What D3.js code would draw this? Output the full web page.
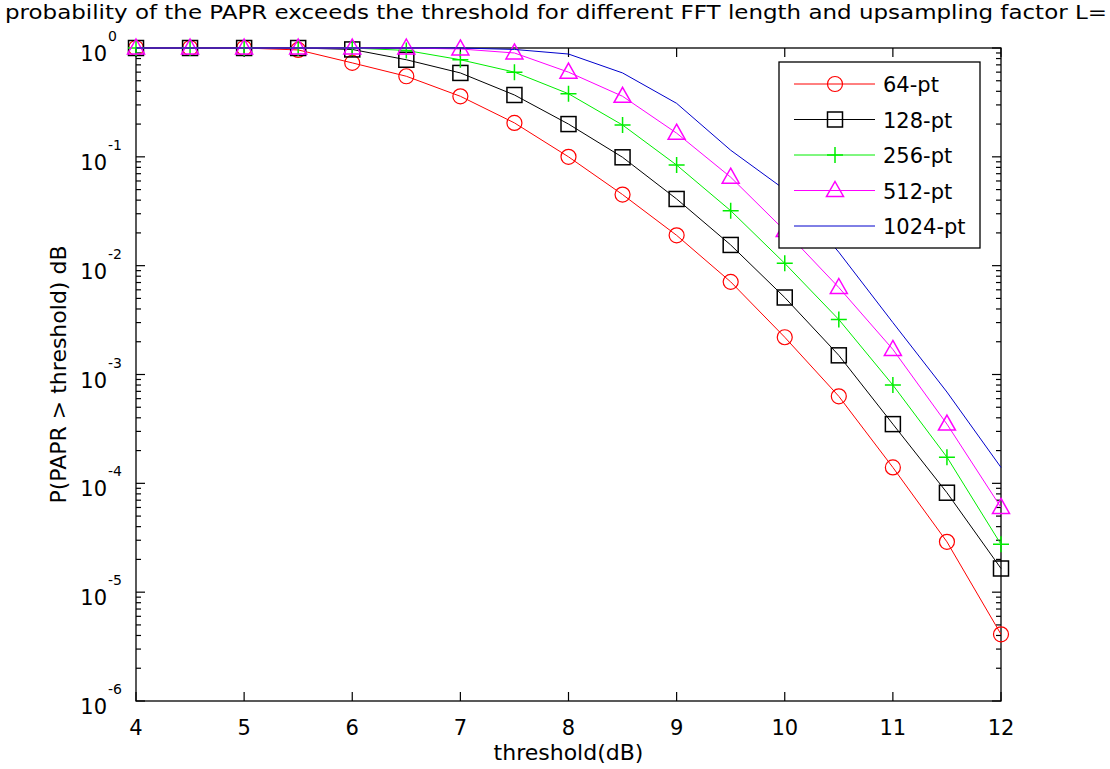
<!DOCTYPE html>
<html>
<head>
<meta charset="utf-8">
<script src="https://d3js.org/d3.v7.min.js"></script>
<style>
body { margin: 0; background: #fff; }
text { font-family: "DejaVu Sans", sans-serif; fill: #000; }
</style>
</head>
<body>
<script>
// threshold values (dB)
var thresholds = [4, 4.5, 5, 5.5, 6, 6.5, 7, 7.5, 8, 8.5, 9, 9.5, 10, 10.5, 11, 11.5, 12];
var p64   = [1, 1, 1, 0.96, 0.73, 0.55, 0.36, 0.205, 0.10, 0.045, 0.019, 0.0071, 0.0022, 6.3e-4, 1.4e-4, 2.9e-5, 4.1e-6];
var p128  = [1, 1, 1, 1, 0.97, 0.78, 0.59, 0.37, 0.20, 0.099, 0.041, 0.0155, 0.0051, 0.0015, 3.5e-4, 8.2e-5, 1.65e-5];
var p256  = [1, 1, 1, 1, 1, 0.95, 0.78, 0.60, 0.38, 0.196, 0.084, 0.032, 0.0105, 0.0032, 8e-4, 1.74e-4, 2.75e-5];
var p512  = [1, 1, 1, 1, 1, 1, 0.98, 0.9, 0.6, 0.36, 0.165, 0.065, 0.021, 0.0063, 0.0017, 3.5e-4, 6e-5];
var p1024 = [1, 1, 1, 1, 1, 1, 1, 0.97, 0.88, 0.59, 0.31, 0.115, 0.05, 0.0133, 0.003, 6.9e-4, 1.4e-4];
var seriesNames = ["64-pt", "128-pt", "256-pt", "512-pt", "1024-pt"];
var xTicks = [4, 5, 6, 7, 8, 9, 10, 11, 12];
var yExponents = [0, -1, -2, -3, -4, -5, -6];
var titleText = "probability of the PAPR exceeds the threshold for different FFT length and upsampling factor L=";

var series = [
    {name: seriesNames[0], values: p64, color: "#ff0000", marker: "circle"},
    {name: seriesNames[1], values: p128, color: "#000000", marker: "square"},
    {name: seriesNames[2], values: p256, color: "#00ee00", marker: "plus"},
    {name: seriesNames[3], values: p512, color: "#ff00ff", marker: "triangle"},
    {name: seriesNames[4], values: p1024, color: "#0000cc", marker: "none"}
];

var W = 1110, H = 769;
var pLeft = 136, pRight = 1001, pTop = 48, pBottom = 701;

var svg = d3.select("body").append("svg").attr("width", W).attr("height", H);
svg.append("rect").attr("width", W).attr("height", H).attr("fill", "#fff");

var x = d3.scaleLinear().domain([4, 12]).range([pLeft, pRight]);
var y = d3.scaleLog().domain([1e-6, 1]).range([pBottom, pTop]);

// plot box
svg.append("rect")
    .attr("x", pLeft).attr("y", pTop)
    .attr("width", pRight - pLeft).attr("height", pBottom - pTop)
    .attr("fill", "#fff").attr("stroke", "#000").attr("stroke-width", 1.3);

// ticks (inward, on all four sides)
var tickG = svg.append("g").attr("stroke", "#000").attr("stroke-width", 1.2);
xTicks.forEach(function (t) {
    tickG.append("line").attr("x1", x(t)).attr("x2", x(t)).attr("y1", pBottom).attr("y2", pBottom - 9);
    tickG.append("line").attr("x1", x(t)).attr("x2", x(t)).attr("y1", pTop).attr("y2", pTop + 9);
});
var minorTicks = [];
yExponents.forEach(function (e) {
    if (e === 0) return;
    for (var m = 2; m <= 9; m++) minorTicks.push(m * Math.pow(10, e));
});
yExponents.forEach(function (e) {
    var v = Math.pow(10, e);
    tickG.append("line").attr("x1", pLeft).attr("x2", pLeft + 9).attr("y1", y(v)).attr("y2", y(v));
    tickG.append("line").attr("x1", pRight).attr("x2", pRight - 9).attr("y1", y(v)).attr("y2", y(v));
});
minorTicks.forEach(function (v) {
    tickG.append("line").attr("x1", pLeft).attr("x2", pLeft + 5).attr("y1", y(v)).attr("y2", y(v));
    tickG.append("line").attr("x1", pRight).attr("x2", pRight - 5).attr("y1", y(v)).attr("y2", y(v));
});

// x tick labels
svg.append("g").selectAll("text")
    .data(xTicks)
    .enter().append("text")
    .attr("x", function (d) { return x(d); })
    .attr("y", 735)
    .attr("text-anchor", "middle")
    .attr("font-size", 21)
    .text(function (d) { return d; });

// y tick labels 10^e
var yl = svg.append("g").selectAll("g")
    .data(yExponents)
    .enter().append("g");
yl.append("text")
    .attr("x", 107)
    .attr("y", function (d) { return y(Math.pow(10, d)) + 13; })
    .attr("text-anchor", "end")
    .attr("font-size", 21)
    .text("10");
yl.append("text")
    .attr("x", 108)
    .attr("y", function (d) { return y(Math.pow(10, d)) - 7; })
    .attr("font-size", 14)
    .text(function (d) { return d; });

// axis labels
svg.append("text")
    .attr("x", (pLeft + pRight) / 2)
    .attr("y", 760)
    .attr("text-anchor", "middle")
    .attr("font-size", 22)
    .text("threshold(dB)");
svg.append("text")
    .attr("transform", "translate(66," + ((pTop + pBottom) / 2) + ") rotate(-90)")
    .attr("text-anchor", "middle")
    .attr("font-size", 22)
    .text("P(PAPR > threshold) dB");

// title (wide MATLAB font, stretched to the same width)
svg.append("text")
    .attr("x", 5)
    .attr("y", 19)
    .attr("font-size", 19)
    .attr("textLength", 1102)
    .attr("lengthAdjust", "spacingAndGlyphs")
    .text(titleText);

// lines
var line = d3.line()
    .x(function (d) { return x(d[0]); })
    .y(function (d) { return y(d[1]); });

var plotG = svg.append("g");

function drawMarker(g, type, color, cx, cy) {
    if (type === "circle") {
        g.append("circle").attr("cx", cx).attr("cy", cy).attr("r", 7.5)
            .attr("fill", "none").attr("stroke", color).attr("stroke-width", 1.2);
    } else if (type === "square") {
        g.append("rect").attr("x", cx - 7.5).attr("y", cy - 7.5).attr("width", 15).attr("height", 15)
            .attr("fill", "none").attr("stroke", color).attr("stroke-width", 1.5);
    } else if (type === "plus") {
        g.append("path").attr("d", "M" + (cx - 8) + "," + cy + "H" + (cx + 8) + "M" + cx + "," + (cy - 8) + "V" + (cy + 8))
            .attr("fill", "none").attr("stroke", color).attr("stroke-width", 1.5);
    } else if (type === "triangle") {
        g.append("path").attr("d", "M" + cx + "," + (cy - 9) + "L" + (cx + 8.5) + "," + (cy + 6) + "L" + (cx - 8.5) + "," + (cy + 6) + "Z")
            .attr("fill", "none").attr("stroke", color).attr("stroke-width", 1.5);
    }
}

series.forEach(function (s) {
    var pts = thresholds.map(function (t, i) { return [t, s.values[i]]; });
    plotG.append("path")
        .datum(pts)
        .attr("d", line)
        .attr("fill", "none")
        .attr("stroke", s.color)
        .attr("stroke-width", 1);
    var mg = plotG.append("g");
    pts.forEach(function (p) {
        drawMarker(mg, s.marker, s.color, x(p[0]), y(p[1]));
    });
});

// legend
var lgX = 779, lgY = 62, lgW = 201, lgH = 186;
var legend = svg.append("g");
legend.append("rect")
    .attr("x", lgX).attr("y", lgY).attr("width", lgW).attr("height", lgH)
    .attr("fill", "#fff").attr("stroke", "#000").attr("stroke-width", 1.3);
series.forEach(function (s, i) {
    var ry = 84 + i * 35.5;
    legend.append("line")
        .attr("x1", 794).attr("x2", 875).attr("y1", ry).attr("y2", ry)
        .attr("stroke", s.color).attr("stroke-width", 1);
    drawMarker(legend, s.marker, s.color, 835, ry);
    legend.append("text")
        .attr("x", 883).attr("y", ry + 8)
        .attr("font-size", 21)
        .text(s.name);
});
</script>
</body>
</html>
